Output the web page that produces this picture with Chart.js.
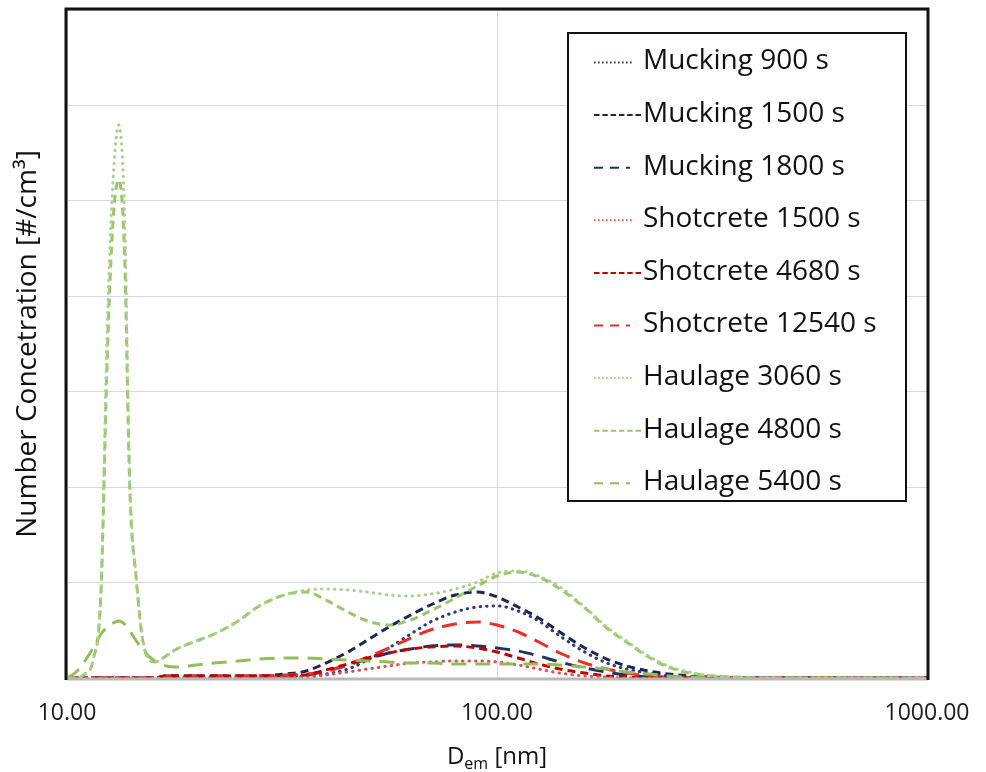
<!DOCTYPE html>
<html>
<head>
<meta charset="utf-8">
<script src="https://cdn.jsdelivr.net/npm/chart.js@4.4.1/dist/chart.umd.min.js"></script>
<style>
  html, body { margin: 0; padding: 0; background: #ffffff; }
  #wrap { width: 986px; height: 772px; }
</style>
</head>
<body>
<div id="wrap"><canvas id="chart" width="986" height="772"></canvas></div>
<script>
// Electrical mobility diameter grid (nm)
const diameters = [10, 10.5, 11, 11.5, 12, 12.4, 12.8, 13.2, 13.6, 14, 14.5, 15, 16, 17, 18, 20, 22, 25, 28, 32, 36, 40, 45, 50, 56, 63, 70, 80, 90, 100, 112, 125, 140, 160, 180, 200, 225, 250, 280, 320, 360, 400, 500, 600, 800, 1000];

// Number concentration per size bin (#/cm³)
const mucking900 = [0,0,0,0,0,0,0,0,0,0,0,0,0,10,10,10,10,10,10,10,21,42,94,189,314,461,587,692,744,755,702,597,440,272,157,94,52,21,10,0,0,0,0,0,0,0];
const mucking1500 = [0,0,0,0,0,0,0,0,0,0,0,0,0,21,21,21,21,21,21,42,73,157,272,398,534,660,765,870,901,849,744,629,482,314,199,126,73,42,21,10,0,0,0,0,0,0];
const mucking1800 = [0,0,0,0,0,0,0,0,0,0,0,0,0,21,21,21,21,21,21,21,31,73,136,199,262,304,335,346,335,314,283,231,168,105,63,31,10,0,0,0,0,0,0,0,0,0];
const shotcrete1500 = [0,0,0,0,0,0,0,0,0,0,0,0,0,0,0,0,0,0,0,10,10,31,63,94,126,157,168,178,178,168,136,94,52,21,10,0,0,0,0,0,0,0,0,0,0,0];
const shotcrete4680 = [0,0,0,0,0,0,0,0,0,0,0,0,0,21,21,21,21,21,21,21,31,84,147,210,262,304,325,335,314,272,210,147,94,52,21,10,0,0,0,0,0,0,0,0,0,0];
const shotcrete12540 = [0,0,0,0,0,0,0,0,0,0,0,0,0,21,21,21,21,21,21,31,42,73,136,220,314,419,503,566,587,555,482,377,262,157,94,52,21,10,0,0,0,0,0,0,0,0];
const haulage3060 = [0,0,42,189,922,3647,5219,5795,4905,2075,1027,398,168,231,304,388,461,597,755,870,922,933,922,901,870,859,880,933,1006,1100,1121,1069,954,744,534,388,231,126,63,21,10,0,0,0,0,0];
const haulage4800 = [0,0,42,189,922,3333,4800,5219,4485,1970,1027,398,168,231,304,388,461,597,755,870,901,817,692,597,555,608,702,838,964,1069,1111,1058,933,734,524,377,220,115,52,21,10,0,0,0,0,0];
const haulage5400 = [0,63,178,314,461,534,576,597,566,493,388,293,178,126,115,136,157,178,199,210,210,199,189,178,168,157,157,147,147,147,147,147,136,115,94,63,42,21,10,0,0,0,0,0,0,0];

const seriesLabels = ['Mucking 900 s', 'Mucking 1500 s', 'Mucking 1800 s',
  'Shotcrete 1500 s', 'Shotcrete 4680 s', 'Shotcrete 12540 s',
  'Haulage 3060 s', 'Haulage 4800 s', 'Haulage 5400 s'];
const seriesValues = [mucking900, mucking1500, mucking1800,
  shotcrete1500, shotcrete4680, shotcrete12540,
  haulage3060, haulage4800, haulage5400];
const xTickValues = [10, 100, 1000];
const xTitleMain = 'D';
const xTitleSub = 'em';
const xTitleUnit = ' [nm]';
const yTitle = 'Number Concetration [#/cm³]';

// Line styles: colour, plot dash, legend dash, cap
const styles = [
  { color: '#2b3a78', dash: [0.5, 6], cap: 'round', legendDash: [1.6, 2.4], legendEnd: 634 },
  { color: '#1c2650', dash: [8, 5], cap: 'butt', legendDash: [5.5, 2.8], legendEnd: 641 },
  { color: '#20335f', dash: [15, 9], cap: 'butt', legendDash: [9, 7], legendEnd: 630 },
  { color: '#d9534f', dash: [0.5, 6], cap: 'round', legendDash: [1.6, 2.4], legendEnd: 634 },
  { color: '#c00000', dash: [8, 5], cap: 'butt', legendDash: [5.5, 2.8], legendEnd: 641 },
  { color: '#e8312a', dash: [15, 9], cap: 'butt', legendDash: [9, 7], legendEnd: 630 },
  { color: '#a9d18e', dash: [0.5, 6], cap: 'round', legendDash: [1.6, 2.4], legendEnd: 634 },
  { color: '#9cc56a', dash: [8, 5], cap: 'butt', legendDash: [5.5, 2.8], legendEnd: 641 },
  { color: '#92bd58', dash: [15, 9], cap: 'butt', legendDash: [9, 7], legendEnd: 630 }
];
const drawOrder = [2, 2, 2, 1, 1, 1, 0, 0, 0];

const FONT = '"Open Sans", "Noto Sans", sans-serif';

const datasets = seriesLabels.map((label, i) => ({
  label: label,
  data: diameters.map((d, j) => ({ x: d, y: seriesValues[i][j] })),
  borderColor: styles[i].color,
  borderDash: styles[i].dash,
  borderCapStyle: styles[i].cap,
  borderWidth: 3,
  pointRadius: 0,
  fill: false,
  cubicInterpolationMode: 'monotone',
  order: drawOrder[i]
}));

// Plot frame: black on three sides, grey baseline
const framePlugin = {
  id: 'frame',
  afterDatasetsDraw(chart) {
    const { ctx, chartArea: a } = chart;
    ctx.save();
    ctx.lineWidth = 3;
    ctx.strokeStyle = '#b8b8b8';
    ctx.beginPath();
    ctx.moveTo(a.left, a.bottom + 1);
    ctx.lineTo(a.right, a.bottom + 1);
    ctx.stroke();
    ctx.strokeStyle = '#111111';
    ctx.beginPath();
    ctx.moveTo(a.left - 1, a.bottom + 2);
    ctx.lineTo(a.left - 1, a.top - 1);
    ctx.lineTo(a.right + 1, a.top - 1);
    ctx.lineTo(a.right + 1, a.bottom + 2);
    ctx.stroke();
    ctx.restore();
  }
};

// Boxed legend inside the plot
const legendPlugin = {
  id: 'boxLegend',
  afterDraw(chart) {
    const ctx = chart.ctx;
    ctx.save();
    ctx.fillStyle = '#ffffff';
    ctx.fillRect(568, 33, 338, 468);
    ctx.lineWidth = 2;
    ctx.strokeStyle = '#111111';
    ctx.strokeRect(568, 33, 338, 468);
    ctx.font = '28px ' + FONT;
    ctx.textBaseline = 'middle';
    seriesLabels.forEach((label, i) => {
      const y = 60.5 + i * 52.6;
      ctx.strokeStyle = styles[i].color;
      ctx.lineWidth = 2;
      ctx.setLineDash(styles[i].legendDash);
      ctx.beginPath();
      ctx.moveTo(594, y + 2);
      ctx.lineTo(styles[i].legendEnd, y + 2);
      ctx.stroke();
      ctx.setLineDash([]);
      ctx.fillStyle = '#111111';
      ctx.fillText(label, 643, y + 1);
    });
    ctx.restore();
  }
};

// X axis title with subscript
const xTitlePlugin = {
  id: 'xTitle',
  afterDraw(chart) {
    const ctx = chart.ctx;
    const a = chart.chartArea;
    ctx.save();
    const big = '24px ' + FONT;
    const small = '16px ' + FONT;
    ctx.font = big;
    const w1 = ctx.measureText(xTitleMain).width;
    const w3 = ctx.measureText(xTitleUnit).width;
    ctx.font = small;
    const w2 = ctx.measureText(xTitleSub).width;
    let x = (a.left + a.right) / 2 - (w1 + w2 + w3) / 2;
    const base = 764;
    ctx.fillStyle = '#111111';
    ctx.textBaseline = 'alphabetic';
    ctx.font = big;
    ctx.fillText(xTitleMain, x, base);
    x += w1;
    ctx.font = small;
    ctx.fillText(xTitleSub, x, base + 5);
    x += w2;
    ctx.font = big;
    ctx.fillText(xTitleUnit, x, base);
    ctx.restore();
  }
};

new Chart(document.getElementById('chart'), {
  type: 'line',
  data: { datasets: datasets },
  plugins: [framePlugin, legendPlugin, xTitlePlugin],
  options: {
    responsive: false,
    animation: false,
    devicePixelRatio: 1,
    layout: { padding: { top: 10, right: 59, left: 0, bottom: 0 } },
    plugins: { legend: { display: false }, tooltip: { enabled: false } },
    scales: {
      x: {
        type: 'logarithmic',
        min: 10,
        max: 1000,
        afterBuildTicks: (scale) => { scale.ticks = xTickValues.map(v => ({ value: v })); },
        afterFit: (scale) => {
          scale.height = 94;
          scale.paddingLeft = 0;
          scale.paddingRight = 0;
        },
        grid: { color: '#d9d9d9', lineWidth: 1, drawTicks: false },
        border: { display: false },
        ticks: {
          padding: 22,
          autoSkip: false,
          maxRotation: 0,
          color: '#1a1a1a',
          font: { family: FONT, size: 23 },
          callback: (v) => Number(v).toFixed(2)
        }
      },
      y: {
        min: 0,
        max: 7000,
        afterFit: (scale) => { scale.width = 67; },
        ticks: { display: false, stepSize: 1000 },
        grid: { color: '#d9d9d9', lineWidth: 1, drawTicks: false },
        border: { display: false },
        title: {
          display: true,
          text: yTitle,
          color: '#111111',
          font: { family: FONT, size: 28, weight: 'normal' },
          padding: { top: 11, bottom: 0 }
        }
      }
    }
  }
});
</script>
</body>
</html>
